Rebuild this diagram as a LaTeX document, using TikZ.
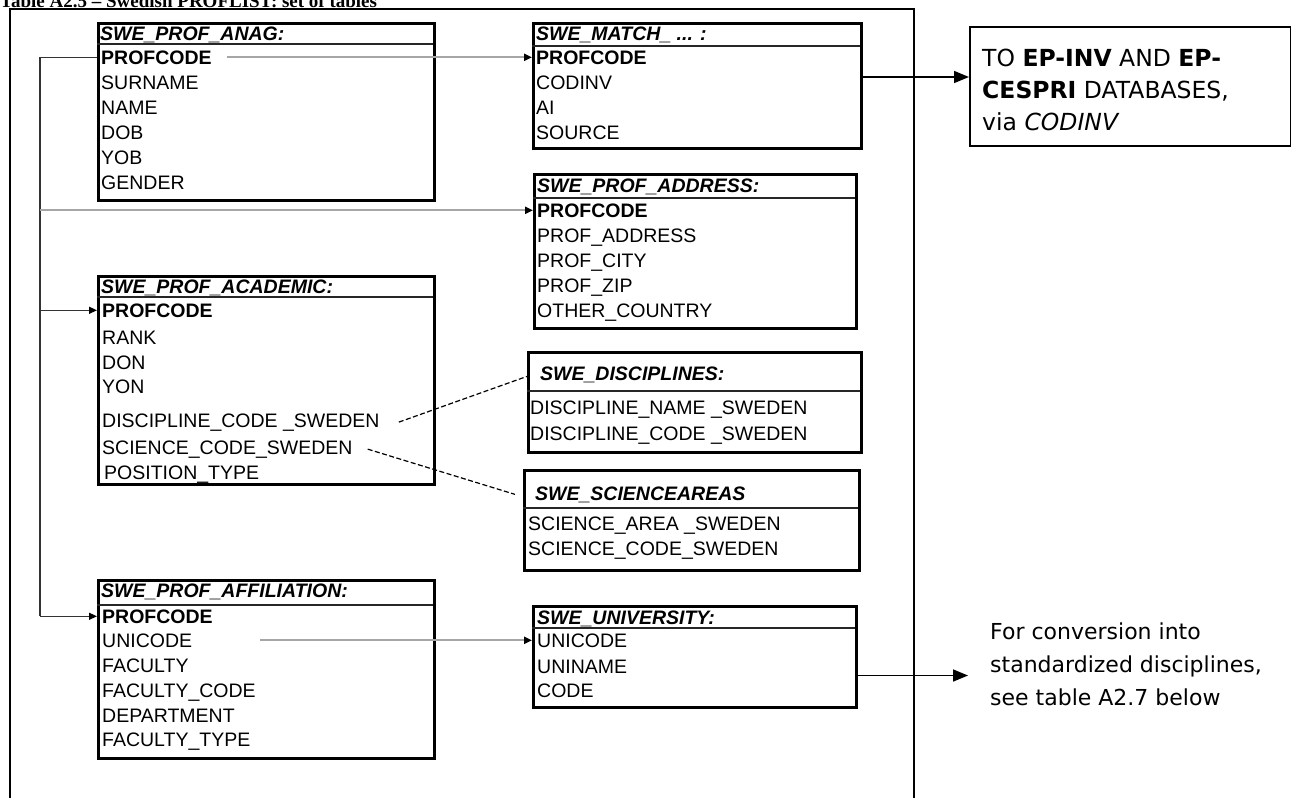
\documentclass[tikz,border=0pt]{standalone}
\usepackage{fontspec}
\usetikzlibrary{arrows.meta}
\newfontfamily\arialf{Liberation Sans}
\newfontfamily\timesf{Liberation Serif}
\newfontfamily\comicf{DejaVu Sans}
\begin{document}
\begin{tikzpicture}[x=1pt,y=-1pt,
  tbl/.style={draw=black, line width=3pt, inner sep=0pt, anchor=north west},
  hsep/.style={line width=1.3pt, draw=black!85},
  hdr/.style={font=\arialf\bfseries\itshape\fontsize{19.5}{20}\selectfont, anchor=base west, inner sep=0pt},
  fld/.style={font=\arialf\fontsize{19.5}{20}\selectfont, anchor=base west, inner sep=0pt},
  keyf/.style={font=\arialf\bfseries\fontsize{19.5}{20}\selectfont, anchor=base west, inner sep=0pt},
  smalltip/.style={-{Triangle[length=8pt,width=7pt,color=black]}},
  bigtip/.style={-{Triangle[length=15pt,width=12pt]}},
  grayline/.style={draw=black!35, line width=2pt, smalltip},
  busline/.style={draw=black!80, line width=1.5pt},
  dashline/.style={draw=black, line width=1.2pt, dash pattern=on 5pt off 2.5pt},
  outline/.style={draw=black, line width=1.6pt, bigtip},
  notebox/.style={draw=black, line width=1.5pt, anchor=north west, inner sep=0pt, minimum width=321pt, minimum height=119pt},
  dbtextf/.style={anchor=west, align=left, inner sep=0pt, font=\comicf\fontsize{23.5}{32}\selectfont},
  notetext/.style={anchor=west, align=left, inner sep=0pt, font=\comicf\fontsize{22}{33}\selectfont},
  titlef/.style={anchor=base west, inner sep=0pt, font=\timesf\bfseries\fontsize{19}{20}\selectfont}
]
\useasboundingbox (0,0) rectangle (1291,798);
\clip (0,0) rectangle (1291,798);

% title (cut off at the top, as in the reference)
\node[titlef] (title) at (0,7) {Table A2.5 – Swedish PROFLIST: set of tables};

% outer frame
\draw[line width=2pt] (10,9) rectangle (914,830);

% ---------- SWE_PROF_ANAG
\node[tbl, minimum width=336pt, minimum height=177pt] (anag) at (97,22) {};
\draw[hsep] (97,44) -- (433,44);
\node[hdr] (anag-h) at (100,40) {SWE\_PROF\_ANAG:};
\node[keyf] (anag-pc) at (101,64) {PROFCODE};
\node[fld] (anag-sn) at (101,89) {SURNAME};
\node[fld] (anag-nm) at (101,114) {NAME};
\node[fld] (anag-dob) at (101,139) {DOB};
\node[fld] (anag-yob) at (101,164) {YOB};
\node[fld] (anag-g) at (101,189) {GENDER};

% ---------- SWE_MATCH
\node[tbl, minimum width=328pt, minimum height=125pt] (match) at (532,22) {};
\draw[hsep] (532,46) -- (860,46);
\node[hdr] (match-h) at (536,40) {SWE\_MATCH\_ ... :};
\node[keyf] (match-pc) at (536,64) {PROFCODE};
\node[fld] (match-ci) at (536,89) {CODINV};
\node[fld] (match-ai) at (536,114) {AI};
\node[fld] (match-src) at (536,139) {SOURCE};

% ---------- SWE_PROF_ADDRESS
\node[tbl, minimum width=322pt, minimum height=154pt] (addr) at (533,173) {};
\draw[hsep] (533,198) -- (855,198);
\node[hdr] (addr-h) at (537,192) {SWE\_PROF\_ADDRESS:};
\node[keyf] (addr-pc) at (537,217) {PROFCODE};
\node[fld] (addr-ad) at (537,242) {PROF\_ADDRESS};
\node[fld] (addr-ci) at (537,267) {PROF\_CITY};
\node[fld] (addr-zip) at (537,292) {PROF\_ZIP};
\node[fld] (addr-oc) at (537,317) {OTHER\_COUNTRY};

% ---------- SWE_PROF_ACADEMIC
\node[tbl, minimum width=336pt, minimum height=208pt] (acad) at (97,275) {};
\draw[hsep] (97,297) -- (433,297);
\node[hdr] (acad-h) at (101,293) {SWE\_PROF\_ACADEMIC:};
\node[keyf] (acad-pc) at (102,317) {PROFCODE};
\node[fld] (acad-rk) at (102,344) {RANK};
\node[fld] (acad-don) at (102,369) {DON};
\node[fld] (acad-yon) at (102,393) {YON};
\node[fld] (acad-dc) at (102,427) {DISCIPLINE\_CODE \_SWEDEN};
\node[fld] (acad-sc) at (102,454) {SCIENCE\_CODE\_SWEDEN};
\node[fld] (acad-pt) at (104,479) {POSITION\_TYPE};

% ---------- SWE_DISCIPLINES
\node[tbl, minimum width=333pt, minimum height=100pt] (disc) at (527,351) {};
\draw[hsep] (527,391) -- (860,391);
\node[hdr] (disc-h) at (540,380) {SWE\_DISCIPLINES:};
\node[fld] (disc-nm) at (530,414) {DISCIPLINE\_NAME \_SWEDEN};
\node[fld] (disc-cd) at (530,440) {DISCIPLINE\_CODE \_SWEDEN};

% ---------- SWE_SCIENCEAREAS
\node[tbl, minimum width=335pt, minimum height=100pt] (sci) at (523,469) {};
\draw[hsep] (523,508) -- (858,508);
\node[hdr] (sci-h) at (535,500) {SWE\_SCIENCEAREAS};
\node[fld] (sci-ar) at (528,530) {SCIENCE\_AREA \_SWEDEN};
\node[fld] (sci-cd) at (528,555) {SCIENCE\_CODE\_SWEDEN};

% ---------- SWE_PROF_AFFILIATION
\node[tbl, minimum width=336pt, minimum height=178pt] (affil) at (97,579) {};
\draw[hsep] (97,605) -- (433,605);
\node[hdr] (affil-h) at (101,597) {SWE\_PROF\_AFFILIATION:};
\node[keyf] (affil-pc) at (102,623) {PROFCODE};
\node[fld] (affil-uc) at (102,647) {UNICODE};
\node[fld] (affil-fa) at (102,672) {FACULTY};
\node[fld] (affil-fc) at (102,697) {FACULTY\_CODE};
\node[fld] (affil-dp) at (102,722) {DEPARTMENT};
\node[fld] (affil-ft) at (102,746) {FACULTY\_TYPE};

% ---------- SWE_UNIVERSITY
\node[tbl, minimum width=323pt, minimum height=101pt] (univ) at (532,605) {};
\draw[hsep] (532,628) -- (855,628);
\node[hdr] (univ-h) at (537,624) {SWE\_UNIVERSITY:};
\node[fld] (univ-uc) at (537,647) {UNICODE};
\node[fld] (univ-un) at (537,673) {UNINAME};
\node[fld] (univ-cd) at (537,697) {CODE};

% ---------- notes
\node[notebox] (db) at (969,26) {};
\node[dbtextf] (dbtext) at (982,90) {TO \textbf{EP-INV} AND \textbf{EP-}\\\textbf{CESPRI} DATABASES,\\via \textit{CODINV}};
\node[notetext] (note) at (990,664) {For conversion into\\standardized disciplines,\\see table A2.7 below};

% ---------- connectors
\coordinate (bus) at (40,0);
\coordinate (mout) at ([yshift=9pt]match.east);
\coordinate (uout) at ([yshift=-18.5pt]univ.east);
\draw[grayline] ([xshift=15pt]anag-pc.east) -- (match.west |- anag-pc.east);
\draw[busline] (anag.west |- anag-pc.east) -- (bus |- anag-pc.east) -- (bus |- affil-pc.east);
\draw[busline, smalltip] (bus |- affil-pc.east) -- (affil.west |- affil-pc.east);
\draw[busline, smalltip] (bus |- acad-pc.east) -- (acad.west |- acad-pc.east);
\draw[grayline] (bus |- addr-pc.east) -- (addr.west |- addr-pc.east);
\draw[grayline] ([xshift=68pt]affil-uc.east) -- (univ.west |- affil-uc.east);
\draw[dashline] ([xshift=19pt]acad-dc.east) -- ([yshift=-2pt]disc.west |- disc-h.west);
\draw[dashline] ([xshift=15pt]acad-sc.east) -- ([xshift=-8pt]sci.west |- sci-h.west);
\draw[outline] (mout) -- (db.west |- mout);
\draw[outline] (uout) -- ([xshift=-22pt]note.west |- uout);
\end{tikzpicture}
\end{document}
